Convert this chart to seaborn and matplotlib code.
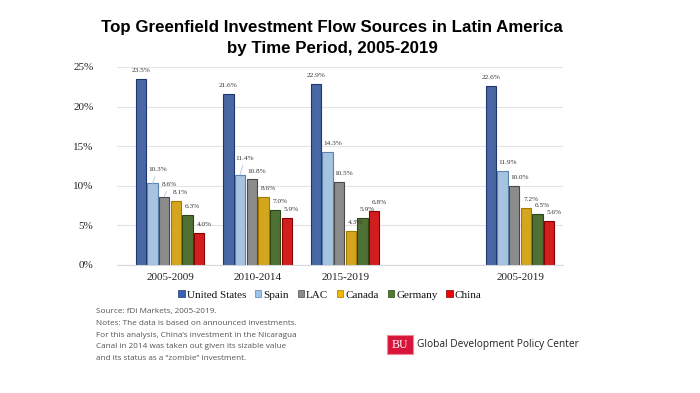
import pandas as pd
import matplotlib.pyplot as plt
import matplotlib.patches as mpatches
import seaborn as sns

periods = ['2005-2009', '2010-2014', '2015-2019', '2005-2019']
countries = ['United States', 'Spain', 'LAC', 'Canada', 'Germany', 'China']
us = [23.5, 21.6, 22.9, 22.6]
spain = [10.3, 11.4, 14.3, 11.9]
lac = [8.6, 10.8, 10.5, 10.0]
canada = [8.1, 8.6, 4.3, 7.2]
germany = [6.3, 7.0, 5.9, 6.5]
china = [4.0, 5.9, 6.8, 5.6]

colors = ['#3a62b2', '#9dc3e8', '#8c8c8c', '#f2b500', '#4e7b2b', '#f00000']
edges = ['#1d3670', '#5a83b0', '#4a4a4a', '#a67a00', '#2a4715', '#8a0000']

# labels that sit higher with a leader line, as in the original
raised = {('Spain', '2005-2009'): 4, ('LAC', '2005-2009'): 3, ('Spain', '2010-2014'): 6}

rows = []
for name, vals in zip(countries, [us, spain, lac, canada, germany, china]):
    for p, v in zip(periods, vals):
        rows.append({'period': p, 'country': name, 'value': v})
data = pd.DataFrame(rows)

sns.set_style('white')
plt.rcParams['font.family'] = ['Liberation Serif', 'DejaVu Serif']
plt.rcParams['text.color'] = '#111111'
plt.rcParams['xtick.color'] = '#222222'
plt.rcParams['ytick.color'] = '#222222'

fig = plt.figure(figsize=(7, 3.93), dpi=100)
ax = fig.add_axes([117 / 700, 1 - 265 / 393, 446 / 700, 198 / 393])

order = periods[:3] + [' '] + periods[3:]
sns.barplot(data=data, x='period', y='value', hue='country', order=order,
            hue_order=countries, palette=colors, width=0.8, gap=0.12, ax=ax, legend=False)

for i, cont in enumerate(ax.containers):
    bars = [b for b in cont if b.get_height() > 0]
    for bar, p in zip(bars, periods):
        bar.set_edgecolor(edges[i])
        bar.set_linewidth(0.8)
        x = bar.get_x() + bar.get_width() / 2
        y = bar.get_height()
        extra = raised.get((countries[i], p), 0)
        dx = 0 if i == 0 else 3.5
        kw = {}
        if extra:
            kw['arrowprops'] = dict(arrowstyle='-', color='#a9c4e4', lw=0.6, shrinkA=1, shrinkB=0)
        ax.annotate(f'{y:.1f}%', xy=(x, y), xytext=(dx, 6 + extra), textcoords='offset points',
                    ha='center', va='center', fontsize=5.2, color='#333333', **kw)

ax.set_xlim(-0.606, 4.49)
ax.set_ylim(0, 25)
ax.set_yticks([0, 5, 10, 15, 20, 25])
ax.set_yticklabels([f'{t}%' for t in [0, 5, 10, 15, 20, 25]], fontsize=8)
ax.tick_params(axis='x', labelsize=8, length=0, pad=6)
ax.tick_params(axis='y', length=0, pad=17)
ax.set_xlabel('')
ax.set_ylabel('')
ax.grid(axis='y', color='#e3e3ea', linewidth=0.8)
ax.set_axisbelow(True)
for s in ['top', 'right', 'left']:
    ax.spines[s].set_visible(False)
ax.spines['bottom'].set_color('#d8d8e0')

handles = [mpatches.Patch(facecolor=c, edgecolor=e, linewidth=0.5) for c, e in zip(colors, edges)]
fig.legend(handles, countries, loc='center', bbox_to_anchor=(330 / 700, 1 - 295 / 393), ncol=6,
           frameon=False, fontsize=8, handlelength=0.55, handleheight=0.55,
           handletextpad=0.2, columnspacing=0.8)

fig.text(332 / 700, 1 - 38 / 393, 'Top Greenfield Investment Flow Sources in Latin America\nby Time Period, 2005-2019',
         ha='center', va='center', fontsize=12.2, fontweight='bold', color='black',
         family='Liberation Sans', linespacing=1.45)

notes = ['Source: fDi Markets, 2005-2019.',
         'Notes: The data is based on announced investments.',
         "For this analysis, China\u2019s investment in the Nicaragua",
         'Canal in 2014 was taken out given its sizable value',
         'and its status as a \u201czombie\u201d investment.']
for k, line in enumerate(notes):
    fig.text(96 / 700, 1 - (312 + k * 11.6) / 393, line, ha='left', va='center',
             fontsize=5.9, color='#555555', family='Open Sans')

fig.patches.append(mpatches.Rectangle((387 / 700, 1 - 354 / 393), 26 / 700, 19 / 393,
                                      transform=fig.transFigure, facecolor='#d9143a',
                                      edgecolor='#f08a9a', linewidth=0.8))
fig.text(400 / 700, 1 - 344.5 / 393, 'BU', ha='center', va='center', color='white',
         fontsize=8.5, family='Liberation Serif')
fig.text(417 / 700, 1 - 344.5 / 393, 'Global Development Policy Center', ha='left',
         va='center', fontsize=7.3, color='#222222', family='Open Sans')

fig.savefig('out.png', dpi=100)
